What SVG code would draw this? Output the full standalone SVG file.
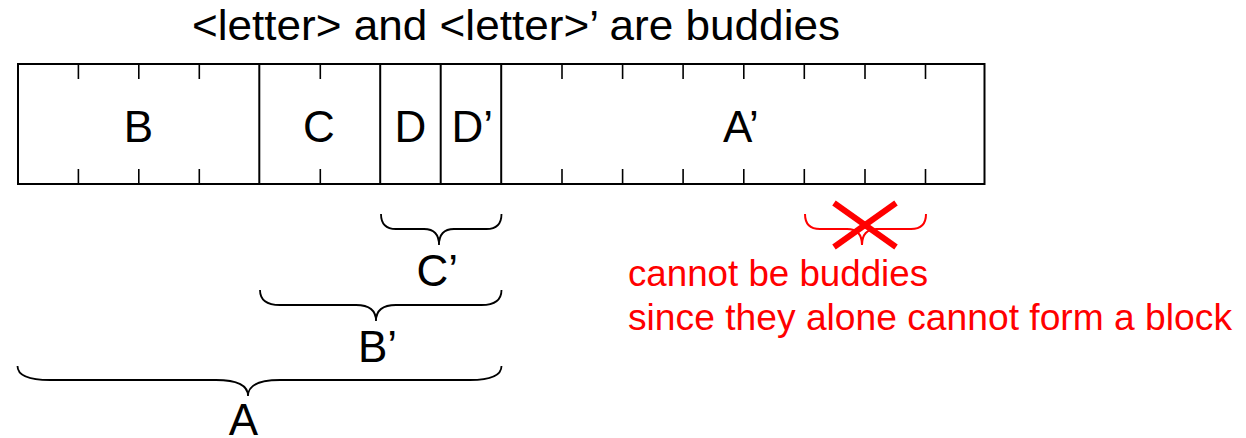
<svg xmlns="http://www.w3.org/2000/svg" width="1246" height="438" viewBox="0 0 1246 438">
<style>
  .t { font-family: "Liberation Sans", Arial, sans-serif; fill: #000; }
  .big { font-size: 44px; }
  .red { font-family: "Liberation Sans", Arial, sans-serif; font-size: 36px; fill: #ff0000; }
  .box { fill: #fff; stroke: #000; stroke-width: 2; }
  .div { stroke: #000; stroke-width: 2; }
  .tick { stroke: #000; stroke-width: 1.6; }
  .brace { fill: none; stroke: #000; stroke-width: 1.8; }
  .rbrace { fill: none; stroke: #ff0000; stroke-width: 2; }
  .cross { stroke: #ff0000; stroke-width: 6; }
</style>
<rect width="1246" height="438" fill="#fff"/>
<g id="title">
  <text class="t" x="192" y="40" font-size="42" textLength="648" lengthAdjust="spacingAndGlyphs">&lt;letter&gt; and &lt;letter&gt;’ are buddies</text>
</g>
<g id="memory-bar">
  <rect class="box" x="18" y="64" width="966.5" height="120"/>
  <g id="ticks">
    <line class="tick" x1="78.4" y1="64" x2="78.4" y2="79"/><line class="tick" x1="78.4" y1="169" x2="78.4" y2="184"/>
    <line class="tick" x1="138.8" y1="64" x2="138.8" y2="79"/><line class="tick" x1="138.8" y1="169" x2="138.8" y2="184"/>
    <line class="tick" x1="199.3" y1="64" x2="199.3" y2="79"/><line class="tick" x1="199.3" y1="169" x2="199.3" y2="184"/>
    <line class="tick" x1="320.3" y1="64" x2="320.3" y2="79"/><line class="tick" x1="320.3" y1="169" x2="320.3" y2="184"/>
    <line class="tick" x1="562" y1="64" x2="562" y2="79"/><line class="tick" x1="562" y1="169" x2="562" y2="184"/>
    <line class="tick" x1="622.6" y1="64" x2="622.6" y2="79"/><line class="tick" x1="622.6" y1="169" x2="622.6" y2="184"/>
    <line class="tick" x1="683.1" y1="64" x2="683.1" y2="79"/><line class="tick" x1="683.1" y1="169" x2="683.1" y2="184"/>
    <line class="tick" x1="743.8" y1="64" x2="743.8" y2="79"/><line class="tick" x1="743.8" y1="169" x2="743.8" y2="184"/>
    <line class="tick" x1="804.3" y1="64" x2="804.3" y2="79"/><line class="tick" x1="804.3" y1="169" x2="804.3" y2="184"/>
    <line class="tick" x1="865" y1="64" x2="865" y2="79"/><line class="tick" x1="865" y1="169" x2="865" y2="184"/>
    <line class="tick" x1="925.5" y1="64" x2="925.5" y2="79"/><line class="tick" x1="925.5" y1="169" x2="925.5" y2="184"/>
  </g>
  <g id="cell-B"><text class="t big" x="138.5" y="142" text-anchor="middle">B</text></g>
  <line class="div" x1="259.3" y1="64" x2="259.3" y2="184"/>
  <g id="cell-C"><text class="t big" x="319" y="142" text-anchor="middle">C</text></g>
  <line class="div" x1="380.2" y1="64" x2="380.2" y2="184"/>
  <g id="cell-D"><text class="t big" x="410.5" y="142" text-anchor="middle">D</text></g>
  <line class="div" x1="440.7" y1="64" x2="440.7" y2="184"/>
  <g id="cell-Dp"><text class="t big" x="451.5" y="142">D’</text></g>
  <line class="div" x1="501.2" y1="64" x2="501.2" y2="184"/>
  <g id="cell-Ap"><text class="t big" x="723" y="142">A’</text></g>
</g>
<g id="connectors">
  <path id="brace-Cp" class="brace" d="M381,214 Q381,229 396,229 L424,229 Q439,229 439,245 Q439,229 454,229 L486.5,229 Q501.5,229 501.5,214"/>
  <path id="brace-Bp" class="brace" d="M260,290 Q260,305 280,305 L356,305 Q376,305 376,321 Q376,305 396,305 L481.5,305 Q501.5,305 501.5,290"/>
  <path id="brace-A" class="brace" d="M17.5,366 Q17.5,380 50,380 L216,380 Q248,380 248,396 Q248,380 280,380 L470,380 Q501.5,380 501.5,366"/>
</g>
<g id="label-Cp"><text class="t big" x="416.5" y="286">C’</text></g>
<g id="label-Bp"><text class="t big" x="358" y="362">B’</text></g>
<g id="label-A"><text class="t big" x="243.5" y="435" text-anchor="middle">A</text></g>
<g id="not-buddies">
  <path class="rbrace" d="M805,214 Q805,229 820,229 L847,229 Q862,229 862,245 Q862,229 877,229 L911,229 Q926,229 926,214"/>
  <line class="cross" x1="834" y1="203" x2="896" y2="247"/>
  <line class="cross" x1="896" y1="203" x2="834" y2="247"/>
  <text class="red" x="628" y="286" textLength="300" lengthAdjust="spacingAndGlyphs">cannot be buddies</text>
  <text class="red" x="628" y="330" textLength="604" lengthAdjust="spacingAndGlyphs">since they alone cannot form a block</text>
</g>
</svg>
